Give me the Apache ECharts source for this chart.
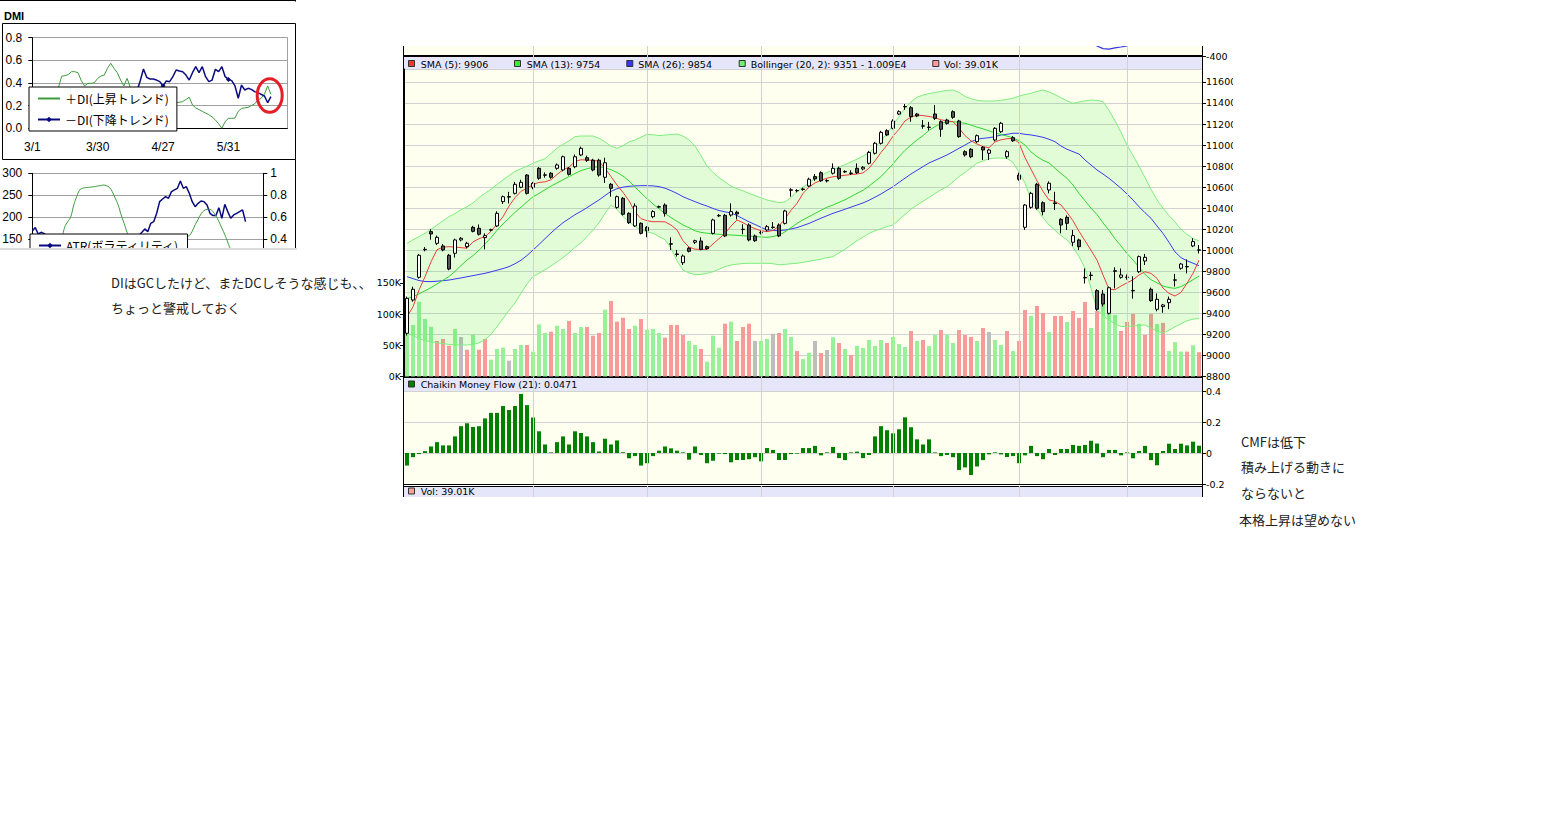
<!DOCTYPE html>
<html><head><meta charset="utf-8">
<script src="https://cdn.jsdelivr.net/npm/echarts@6/dist/echarts.min.js"></script>
<style>
html,body{margin:0;padding:0;background:#fff;width:1566px;height:828px;overflow:hidden;}
#dmiWrap{position:absolute;left:0;top:0;width:298px;height:248px;overflow:hidden;}
#dmi{position:absolute;left:0;top:0;width:298px;height:248px;}
#dmiEdge{position:absolute;left:0;top:248px;width:297px;height:2px;background:#dcdcdc;}
#mainWrap{position:absolute;left:360px;top:46px;width:873px;height:451px;overflow:hidden;}
#main{position:absolute;left:0;top:-60px;width:900px;height:600px;}
.note{position:absolute;font-family:"Noto Sans CJK JP";font-size:13px;color:#222;white-space:nowrap;line-height:16px;}
</style></head>
<body>
<div id="dmiWrap"><div id="dmi"></div></div>
<div id="dmiEdge"></div>
<div class="note" style="left:111px;top:275px">DIはGCしたけど、またDCしそうな感じも、、</div>
<div class="note" style="left:111px;top:300px">ちょっと警戒しておく</div>
<div id="mainWrap"><div id="main"></div></div>
<div class="note" style="left:1241px;top:434px">CMFは低下</div>
<div class="note" style="left:1241px;top:459px">積み上げる動きに</div>
<div class="note" style="left:1241px;top:485px">ならないと</div>
<div class="note" style="left:1239px;top:512px">本格上昇は望めない</div>
<script>
// ================= DATA: main chart (Dec 2009 - Jun 2010) =================
const decDays=[1,2,3,4,7,8,9,10,11,14,15,16,17,18,21,22,24,25,28,29,30];
const janDays=[4,5,6,7,8,12,13,14,15,18,19,20,21,22,25,26,27,28,29];
const febDays=[1,2,3,4,5,8,9,10,12,15,16,17,18,19,22,23,24,25,26];
const marDays=[1,2,3,4,5,8,9,10,11,12,15,16,17,18,19,23,24,25,26,29,30,31];
const aprDays=[1,2,5,6,7,8,9,12,13,14,15,16,19,20,21,22,23,26,27,28,30];
const mayDays=[6,7,10,11,12,13,14,17,18,19,20,21,24,25,26,27,28,31];
const junDays=[1,2,3,4,7,8,9,10,11,14,15,16,17];
const junDaysDmi=[1,2,3,4,7,8,9,10,11,14,15,16,17,18,21,22,23,24];

const opens=[9211,9527,9743,10005,10177,10066,10041,9952,9971,10098,10034,10218,10209,10120,10191,10231,10462,10505,10541,10599,10715,10599,10779,10713,10732,10779,10763,10779,10794,10906,10880,10856,10856,10694,10627,10408,10494,10351,10231,10256,10218,10319,10410,10430,10062,9965,9882,10019,10076,10088,10034,10161,10327,10332,10335,10361,10200,10240,10136,10165,10193,10216,10240,10256,10570,10565,10578,10611,10700,10737,10659,10732,10779,10745,10730,10779,10773,10827,10922,11017,11137,11159,11295,11363,11355,11295,11179,11167,11295,11222,11238,11317,11229,10937,10960,11032,10979,10922,11048,11127,10889,11070,10715,10218,10408,10627,10452,10573,10450,10294,10313,10076,10098,9742,9760,9616,9584,9401,9805,9743,9745,9618,9796,9898,9629,9439,9464,9502,9715,9829,9842,10041,10000];
const closes=[9543,9629,9952,10009,10155,10123,10003,9822,10098,10114,10066,10180,10152,10139,10195,10351,10509,10510,10627,10646,10541,10637,10684,10717,10694,10811,10889,10722,10889,10969,10855,10763,10715,10832,10589,10509,10342,10262,10421,10161,10186,10367,10415,10351,10058,9960,9945,9990,10091,10009,10015,10288,10331,10136,10367,10345,10198,10098,10091,10169,10224,10220,10136,10373,10575,10568,10582,10675,10678,10661,10663,10779,10684,10749,10734,10737,10789,10930,11017,11121,11096,11229,11317,11367,11270,11276,11183,11171,11254,11150,11206,11264,11080,10906,10889,11089,10953,10953,11159,11207,10937,11041,10675,10430,10541,10399,10367,10637,10443,10240,10256,10139,10034,9737,9764,9439,9489,9644,9800,9765,9743,9614,9939,9933,9521,9534,9480,9534,9719,9869,9846,10082,10004];
const highs=[9560,9654,9965,10030,10200,10140,10060,9965,10110,10125,10080,10232,10245,10161,10205,10370,10520,10555,10650,10670,10725,10650,10790,10740,10745,10825,10900,10790,10910,10985,10900,10870,10870,10880,10640,10520,10505,10360,10446,10265,10230,10380,10425,10446,10123,10003,9960,10030,10100,10123,10045,10300,10345,10345,10446,10375,10247,10255,10150,10185,10240,10269,10255,10385,10590,10580,10595,10690,10725,10750,10675,10826,10795,10760,10760,10826,10800,10945,11030,11135,11150,11245,11330,11390,11370,11305,11238,11220,11380,11235,11250,11330,11240,10950,10970,11100,10990,10965,11170,11220,10950,11085,10737,10440,10555,10640,10465,10655,10556,10305,10332,10193,10110,9827,9795,9630,9623,9655,9838,9827,9770,9753,9950,9965,9645,9590,9490,9560,9775,9880,9913,10114,10050];
const lows=[9190,9511,9730,9990,10100,10050,9990,9810,9930,10085,10020,10170,10140,10009,10180,10220,10440,10445,10530,10590,10530,10580,10670,10690,10680,10765,10750,10710,10780,10895,10840,10750,10700,10640,10510,10395,10330,10250,10220,10150,10123,10305,10400,10320,10003,9940,9860,9980,10060,10000,10005,10150,10315,10125,10320,10294,10152,10085,10080,10150,10180,10205,10125,10245,10509,10550,10565,10600,10660,10650,10645,10720,10670,10735,10715,10725,10760,10815,10910,11005,11085,11150,11285,11335,11222,11265,11155,11140,11238,11079,11195,11250,11070,10890,10875,11020,10858,10858,11035,11115,10870,11030,10661,10193,10395,10385,10332,10541,10383,10161,10193,10041,10003,9684,9715,9425,9465,9390,9638,9730,9720,9540,9785,9860,9510,9420,9406,9440,9655,9815,9780,10030,9970];
const volumeK=[122.7,82.6,120,92.2,79.9,57,60.2,49.4,76.2,63.4,43,66.6,43,60.2,27,44.1,46.3,25.4,44.1,50.5,50.5,39.8,83.7,69.8,71.9,81.5,76.2,89,69.8,79.4,79.4,65.5,69.8,107.2,121.1,88,94.3,76.2,81.5,92.2,75.1,76.2,69.8,62.3,82.6,82.6,66.6,57,50.5,44.1,23.8,65.5,46.3,84.7,88,57,79.4,84.7,57,57,60.2,68.7,69.8,76.2,63.4,40.9,28.1,37.7,57,37.7,42.5,62.9,53.7,44.1,34.5,48.9,45.7,58.6,48.9,58.6,53.7,63.4,52.1,47.3,73,57,58.6,48.9,66.6,74.6,66.6,53.7,74.6,66.6,63.4,57,77.8,71.4,58.6,50.5,73,40.9,57,106.7,97.1,113.1,101.9,71.4,97.1,97.1,87.4,105.1,93.9,119.5,77.8,105.1,116.3,100.3,98.7,73,87.4,100.3,84.2,66.6,100.3,84.2,86,41,55,40,40,50,39.01];
const volumeColorCodes="gggggrrrgnrgrrgggnggrgggrggrggrrrgrrrrgrgggrrrrggrgggrgrrrnggnrggrggnrngrgrgggggrgggrgrggrggrrrgrnggrgrrgrrgrrgrrrgrgggrrrgrrgrggg"+"rgr";
const sma5=[9368,9463,9622,9749,9890,10005,10030,10034,10030,10025,10019,10080,10110,10129,10180,10250,10319,10420,10500,10560,10589,10625,10645,10650,10670,10720,10765,10790,10845,10860,10858,10855,10845,10780,10700,10620,10550,10470,10365,10300,10281,10271,10272,10270,10240,10193,10090,10030,10010,10008,10009,10060,10110,10160,10230,10288,10262,10230,10205,10185,10177,10188,10230,10300,10380,10446,10540,10600,10640,10665,10685,10699,10705,10713,10720,10725,10735,10780,10850,10930,11000,11085,11150,11230,11265,11285,11280,11272,11260,11240,11230,11222,11160,11090,11040,11010,10985,10975,11030,11050,11060,11064,11020,10880,10770,10660,10560,10478,10465,10430,10360,10280,10180,10090,10000,9907,9765,9630,9625,9660,9690,9720,9765,9796,9780,9733,9640,9590,9565,9600,9686,9781,9906];
const sma13=[9540,9560,9585,9615,9645,9680,9715,9750,9800,9855,9907,9950,10000,10060,10120,10190,10250,10305,10360,10410,10460,10509,10540,10575,10610,10640,10670,10700,10730,10758,10775,10788,10794,10785,10765,10740,10705,10660,10600,10545,10490,10440,10395,10350,10310,10275,10240,10215,10185,10170,10162,10156,10152,10148,10145,10142,10138,10135,10130,10126,10123,10130,10145,10175,10215,10255,10290,10320,10350,10380,10410,10430,10455,10480,10510,10540,10570,10610,10655,10700,10760,10820,10890,10950,11000,11048,11090,11140,11175,11205,11222,11222,11215,11207,11190,11170,11155,11135,11115,11100,11085,11070,11040,11000,10935,10890,10855,10830,10780,10730,10684,10620,10540,10470,10400,10340,10260,10190,10110,10040,9970,9907,9840,9770,9720,9690,9660,9645,9638,9655,9686,9720,9754];
const sma26=[9749,9730,9712,9703,9702,9706,9711,9717,9727,9737,9748,9759,9770,9781,9795,9810,9826,9844,9872,9905,9950,10002,10055,10110,10165,10215,10262,10300,10338,10370,10405,10442,10478,10520,10560,10585,10600,10608,10612,10614,10614,10612,10605,10590,10567,10540,10509,10485,10462,10440,10420,10397,10378,10365,10355,10330,10300,10271,10245,10218,10195,10188,10186,10192,10203,10215,10235,10255,10280,10305,10328,10351,10370,10390,10410,10430,10450,10475,10505,10535,10570,10604,10645,10685,10725,10760,10795,10830,10855,10880,10906,10937,10969,11000,11032,11055,11064,11070,11080,11096,11102,11112,11112,11102,11096,11086,11074,11055,11032,10991,10960,10937,10915,10858,10811,10763,10725,10684,10637,10589,10535,10478,10414,10357,10304,10231,10160,10075,9985,9930,9900,9877,9854];
const bbUpper=[10066,10100,10130,10161,10200,10240,10280,10319,10350,10385,10414,10450,10500,10541,10580,10625,10670,10710,10750,10775,10800,10827,10850,10870,10920,10970,11007,11040,11080,11086,11086,11086,11065,11030,10990,10969,10995,11030,11048,11075,11102,11098,11090,11095,11100,11105,11085,11050,10990,10900,10800,10740,10690,10650,10610,10585,10565,10541,10520,10498,10478,10465,10452,10460,10500,10560,10600,10640,10684,10710,10740,10765,10790,10815,10840,10865,10895,10930,10980,11040,11110,11191,11270,11350,11410,11455,11475,11490,11500,11510,11520,11523,11500,11462,11440,11425,11419,11418,11419,11425,11435,11445,11465,11480,11492,11510,11523,11505,11480,11450,11420,11397,11410,11420,11428,11425,11413,11330,11230,11120,11000,10900,10800,10690,10580,10480,10400,10330,10270,10200,10150,10110,10090];
const bbLower=[9211,9190,9160,9140,9131,9120,9112,9105,9100,9099,9099,9105,9120,9150,9200,9273,9350,9430,9500,9590,9680,9749,9780,9815,9850,9890,9930,9975,10030,10070,10130,10190,10260,10350,10430,10390,10320,10270,10225,10195,10175,10161,10130,10100,10020,9900,9812,9785,9768,9770,9780,9796,9820,9845,9860,9868,9874,9876,9876,9876,9876,9872,9862,9866,9872,9876,9885,9895,9905,9915,9930,9939,9975,10010,10050,10090,10125,10160,10185,10205,10225,10240,10290,10340,10390,10430,10465,10500,10540,10575,10604,10650,10700,10740,10785,10827,10850,10870,10876,10876,10874,10835,10740,10640,10478,10390,10310,10240,10190,10140,10098,10030,9940,9830,9640,9432,9380,9337,9300,9275,9275,9280,9285,9290,9260,9230,9211,9240,9273,9300,9330,9345,9351];
const cmf=[-0.081,-0.027,-0.007,0.012,0.042,0.07,0.049,0.049,0.107,0.173,0.192,0.168,0.173,0.223,0.259,0.259,0.303,0.277,0.303,0.381,0.309,0.229,0.14,0.055,0.004,0.07,0.107,0.055,0.14,0.129,0.107,0.07,0.01,0.092,0.055,0.081,0.005,-0.034,-0.02,-0.081,-0.066,-0.02,0.015,0.042,0.03,0.015,0.004,-0.043,0.042,-0.013,-0.066,-0.05,-0.004,-0.007,-0.06,-0.045,-0.045,-0.04,-0.027,-0.054,0.032,0.02,-0.045,-0.045,-0.007,-0.004,0.032,0.032,0.046,-0.015,0.004,0.039,-0.033,-0.046,0.004,0.009,-0.033,-0.013,0.107,0.173,0.147,0.127,0.153,0.23,0.166,0.088,0.055,0.088,0.004,-0.02,-0.013,-0.027,-0.11,-0.093,-0.142,-0.087,-0.046,-0.009,0.004,-0.009,-0.026,-0.02,-0.066,-0.015,0.046,-0.02,-0.04,0.026,-0.013,0.026,0.026,0.052,0.046,0.052,0.079,0.061,-0.027,0.02,0.02,-0.015,0.004,-0.034,0.013,0.046,-0.046,-0.079,0.013,0.06,0.026,0.06,0.049,0.073,0.0471];
// visible tail of the indicator line in the (cropped) panel above the price pane
const upperPanelLine=new Array(133).fill(null);
[[114,-333],[115,-350],[116,-363],[117,-366],[118,-359],[119,-355],[120,-350],[121,-335]].forEach(([i,v])=>upperPanelLine[i]=v);

// ================= DATA: DMI / ATR (Mar - Jun 2010) =================
const dmiPlus=[null,null,null,null,null,null,null,0.33,0.362,0.46,0.465,0.475,0.50,0.50,0.49,0.42,0.374,0.397,0.397,0.403,0.441,0.462,0.47,0.53,0.574,0.53,0.491,0.426,0.374,0.441,0.36,0.32,null,null,null,null,null,null,null,null,null,null,null,0.24,0.226,0.23,0.235,0.255,0.274,0.206,0.18,0.165,0.15,0.135,0.12,0.1,0.074,0.04,0.0,0.06,0.088,0.088,0.09,0.15,0.176,0.18,0.185,0.2,0.215,0.25,0.265,0.30,0.374,0.30,null,null,null,null,null];
const dmiMinus=[null,null,null,null,null,null,null,null,null,null,null,null,null,null,null,null,null,null,null,null,null,null,null,null,null,null,null,null,null,null,null,null,0.33,0.418,0.524,0.45,0.435,0.435,0.426,0.412,0.374,0.418,0.412,0.456,0.515,0.506,0.50,0.47,0.426,0.491,0.544,0.491,0.544,0.456,0.412,0.426,0.521,0.50,0.544,0.456,0.432,0.421,0.374,0.265,0.382,0.338,0.353,0.344,0.324,0.315,0.30,0.285,0.226,0.279,null,null,null,null,null];
const atrValues=[168.3,176,161.5,165.3,162.3,155,null,null,null,null,null,null,null,null,null,null,null,null,null,null,null,null,null,null,null,null,null,null,null,null,null,null,null,null,null,null,158,165.3,173,166.8,185.8,189.6,208.7,235.3,241.4,246.7,242.9,258.1,262,265.8,282.5,265.8,269.6,254.3,235.3,223.9,231.5,236.8,235.3,227.7,208.7,203.4,203.4,221.6,197.3,229.2,212.5,197.3,204.9,208.7,212.5,216.3,189.6,null,null,null,null,null,null];
const volatility=[null,null,null,null,null,null,null,null,null,null,0.40,0.513,0.559,0.604,0.711,0.787,0.848,0.863,0.869,0.872,0.875,0.878,0.884,0.887,0.893,0.887,0.872,0.833,0.772,0.711,0.62,0.543,0.461,0.40,null,null,null,null,null,null,null,null,null,null,null,null,null,null,null,null,0.38,0.40,0.42,0.43,0.47,0.53,0.58,0.63,0.66,0.67,0.67,0.65,0.61,0.56,0.50,0.44,0.37,0.30,0.25,null,null,null,null,null,null,null,null,null,null];

// ================= build helpers =================
function buildDates(list){const out=[];list.forEach(([m,days])=>days.forEach(d=>out.push(m+'/'+d)));return out;}
const categories=buildDates([[12,decDays],[1,janDays],[2,febDays],[3,marDays],[4,aprDays],[5,mayDays],[6,junDays]]);
const dmiDates=buildDates([[3,marDays],[4,aprDays],[5,mayDays],[6,junDaysDmi]]);
const N=categories.length;
const monthStarts=[];
for(let i=1;i<N;i++){if(categories[i].split('/')[0]!==categories[i-1].split('/')[0])monthStarts.push(i);}
const last=a=>a[a.length-1];

// ================= main chart =================
const FONT='DejaVu Sans';
const BG='#fffff0', BAND='#e6e6fa', GRIDC='#d2d2d2';
const GL=44, GW=798;
const gridDefs=[
  {top:0,height:70,bg:BG},
  {top:70,height:13,bg:BAND},
  {top:83,height:307.5,bg:BG},
  {top:391,height:14,bg:BAND},
  {top:405,height:93,bg:BG},
  {top:500,height:60,bg:BAND}
];
const grids=gridDefs.map(g=>({left:GL,width:GW,top:g.top,height:g.height,show:true,backgroundColor:g.bg,borderWidth:0,containLabel:false,outerBoundsMode:'none'}));
const xAxes=gridDefs.map((g,k)=>({
  type:'category',gridIndex:k,data:categories,boundaryGap:true,
  position:(k===1||k===5)?'top':'bottom',
  axisLine:{show:(k===1||k===2||k===4||k===5),onZero:false,lineStyle:{color:'#000',width:(k===1||k===2)?2:1}},
  axisTick:{show:false},axisLabel:{show:false},splitLine:{show:false}
}));
const lab={fontFamily:FONT,fontSize:9.5,color:'#000'};
const lineOnlyAxis=k=>({type:'value',gridIndex:k,position:'right',min:0,max:1,axisLine:{show:true,lineStyle:{color:'#000'}},axisTick:{show:false},axisLabel:{show:false},splitLine:{show:false}});
const yAxes=[
  {type:'value',gridIndex:0,position:'right',min:-400,max:-50,interval:100,axisLine:{show:true,lineStyle:{color:'#000'}},axisTick:{show:true,inside:false,length:4,lineStyle:{color:'#000'}},
   axisLabel:Object.assign({margin:4,showMinLabel:true,formatter:v=>v===-400?'-400':''},lab),splitLine:{show:false}},
  lineOnlyAxis(1),
  {type:'value',gridIndex:2,position:'right',min:8800,max:11723,interval:200,axisLine:{show:true,lineStyle:{color:'#000'}},axisTick:{show:true,length:4,lineStyle:{color:'#000'}},
   axisLabel:Object.assign({margin:4,showMinLabel:true,showMaxLabel:false,formatter:v=>String(Math.round(v))},lab),splitLine:{show:true,lineStyle:{color:GRIDC,width:1}}},
  {type:'value',gridIndex:2,position:'left',min:0,max:493300,interval:50000,axisLine:{show:true,lineStyle:{color:'#000'}},
   axisTick:{show:true,length:4,lineStyle:{color:'#000'},customValues:[0,50000,100000,150000]},
   axisLabel:Object.assign({margin:3,showMinLabel:true,customValues:[0,50000,100000,150000],formatter:v=>v<=150000?(Math.round(v/1000))+'K':''},lab),splitLine:{show:false}},
  lineOnlyAxis(3),
  {type:'value',gridIndex:4,position:'right',min:-0.2,max:0.4,interval:0.2,axisLine:{show:true,lineStyle:{color:'#000'}},axisTick:{show:true,length:4,lineStyle:{color:'#000'}},
   axisLabel:Object.assign({margin:4,showMinLabel:true,showMaxLabel:true,formatter:v=>String(Math.round(v*10)/10)},lab),splitLine:{show:true,lineStyle:{color:GRIDC,width:1}}},
  lineOnlyAxis(5)
];
const yForGrid=[0,1,2,4,5,6];
const nulls=categories.map(()=>null);
function carrier(k){
  return {type:'line',xAxisIndex:k,yAxisIndex:yForGrid[k],data:nulls,symbol:'none',silent:true,z:1,lineStyle:{opacity:0},
    markLine:{silent:true,animation:false,symbol:['none','none'],label:{show:false},lineStyle:{color:GRIDC,type:'solid',width:1},
      emphasis:{disabled:true},data:monthStarts.map(i=>({xAxis:categories[i]}))}};
}
const volColorMap={g:'#98f098',r:'#f89a9a',n:'#bdbdbd'};
const candleData=opens.map((o,i)=>[o,closes[i],lows[i],highs[i]]);
const series=[
  carrier(0),
  {type:'line',xAxisIndex:0,yAxisIndex:0,data:upperPanelLine,symbol:'none',z:3,lineStyle:{color:'#3434e8',width:1.2}},
  carrier(1),
  carrier(2),
  {type:'bar',xAxisIndex:2,yAxisIndex:3,barWidth:4,z:1,data:volumeK.map((v,i)=>({value:v*1000,itemStyle:{color:volColorMap[volumeColorCodes[i]]}}))},
  {type:'line',xAxisIndex:2,yAxisIndex:2,data:bbLower,stack:'bb',symbol:'none',z:2,lineStyle:{color:'#7eee7e',width:1}},
  {type:'line',xAxisIndex:2,yAxisIndex:2,data:bbUpper.map((u,i)=>u-bbLower[i]),stack:'bb',symbol:'none',z:2,lineStyle:{color:'#7eee7e',width:1},areaStyle:{color:'rgba(0,230,30,0.16)'}},
  {type:'line',xAxisIndex:2,yAxisIndex:2,data:sma26,symbol:'none',z:3,lineStyle:{color:'#3a3af0',width:1}},
  {type:'line',xAxisIndex:2,yAxisIndex:2,data:sma13,symbol:'none',z:3,lineStyle:{color:'#30d830',width:1}},
  {type:'line',xAxisIndex:2,yAxisIndex:2,data:sma5,symbol:'none',z:3,lineStyle:{color:'#f03c3c',width:1}},
  {type:'candlestick',xAxisIndex:2,yAxisIndex:2,data:candleData,barWidth:4,z:4,
   itemStyle:{color:'#ffffff',color0:'#555555',borderColor:'#000000',borderColor0:'#000000',borderColorDoji:'#000000',borderWidth:1}},
  carrier(3),
  carrier(4),
  {type:'bar',xAxisIndex:4,yAxisIndex:5,data:cmf,barWidth:4,z:2,itemStyle:{color:'#007f00'}},
  carrier(5)
];
function legendItem(sqX,txtX,cy,color,text){
  return [
    {type:'rect',shape:{x:sqX,y:cy-3.5,width:6,height:6},style:{fill:color,stroke:'#333',lineWidth:1},z:50},
    {type:'text',x:txtX,y:cy,style:{text:text,fill:'#000',fontFamily:FONT,fontSize:9.5,verticalAlign:'middle',align:'left'},z:50}
  ];
}
const fmtE=v=>(v/1e4).toFixed(3)+'E4';
const graphics=[].concat(
  legendItem(48.5,60.7,78,'#ff3333','SMA (5): '+last(sma5)),
  legendItem(154.5,166.7,78,'#33ee33','SMA (13): '+last(sma13)),
  legendItem(266.8,278.3,78,'#3535ff','SMA (26): '+last(sma26)),
  legendItem(379.2,390.7,78,'#70ee70','Bollinger (20, 2): '+last(bbLower)+' - '+fmtE(last(bbUpper))),
  legendItem(572.8,584,78,'#ff9c9c','Vol: '+last(volumeK).toFixed(2)+'K'),
  legendItem(48.5,60.7,398.5,'#007f00','Chaikin Money Flow (21): '+last(cmf)),
  legendItem(48.5,60.7,505.5,'#ff9c9c','Vol: '+last(volumeK).toFixed(2)+'K'),
  [
    {type:'line',shape:{x1:43.5,y1:0,x2:43.5,y2:600},style:{stroke:'#000',lineWidth:1},z:60},
    {type:'line',shape:{x1:842.5,y1:0,x2:842.5,y2:600},style:{stroke:'#000',lineWidth:1},z:60},
    {type:'line',shape:{x1:842.5,y1:515.5,x2:846.5,y2:515.5},style:{stroke:'#000',lineWidth:1},z:60},
    {type:'text',x:847,y:515.5,style:{text:'150K',fill:'#000',fontFamily:FONT,fontSize:9.5,verticalAlign:'middle'},z:60}
  ]
);
const main=echarts.init(document.getElementById('main'),null,{renderer:'svg'});
main.setOption({
  animation:false,
  textStyle:{fontFamily:FONT},
  grid:grids,xAxis:xAxes,yAxis:yAxes,series:series,graphic:graphics
});

// ================= DMI / ATR chart =================
const JP='Noto Sans CJK JP';
const lab2={fontFamily:'Liberation Sans',fontSize:12,color:'#000'};
const dmi=echarts.init(document.getElementById('dmi'),null,{renderer:'svg'});
dmi.setOption({
  animation:false,
  textStyle:{fontFamily:'Liberation Sans'},
  grid:[
    {left:32.3,top:37.7,width:255,height:90.6,containLabel:false,outerBoundsMode:'none'},
    {left:32.3,top:173.3,width:231,height:87.6,containLabel:false,outerBoundsMode:'none'}
  ],
  xAxis:[
    {type:'category',gridIndex:0,data:dmiDates,boundaryGap:false,axisLine:{onZero:false,lineStyle:{color:'#000'}},axisTick:{show:false},
     axisLabel:Object.assign({interval:19,margin:13},lab2),splitLine:{show:false}},
    {type:'category',gridIndex:1,data:dmiDates,boundaryGap:false,axisLine:{onZero:false,lineStyle:{color:'#000'}},axisTick:{show:false},axisLabel:{show:false},splitLine:{show:false}}
  ],
  yAxis:[
    {type:'value',gridIndex:0,min:0,max:0.8,interval:0.2,axisLine:{show:true,lineStyle:{color:'#000'}},axisTick:{show:true,length:4,lineStyle:{color:'#000'}},
     axisLabel:Object.assign({margin:10,showMinLabel:true,showMaxLabel:true,formatter:v=>v.toFixed(1)},lab2),splitLine:{show:true,lineStyle:{color:'#a0a0a0'}}},
    {type:'value',gridIndex:0,position:'right',min:0,max:1,axisLine:{show:true,lineStyle:{color:'#a0a0a0'}},axisTick:{show:false},axisLabel:{show:false},splitLine:{show:false}},
    {type:'value',gridIndex:1,min:100,max:300,interval:50,axisLine:{show:true,lineStyle:{color:'#000'}},axisTick:{show:true,length:4,lineStyle:{color:'#000'}},
     axisLabel:Object.assign({margin:10,showMaxLabel:true,formatter:v=>v>=150?String(v):''},lab2),splitLine:{show:true,lineStyle:{color:'#a0a0a0'}}},
    {type:'value',gridIndex:1,position:'right',min:0.2,max:1.0,interval:0.2,axisLine:{show:true,lineStyle:{color:'#000'}},axisTick:{show:true,length:4,lineStyle:{color:'#000'}},
     axisLabel:Object.assign({margin:7,showMaxLabel:true,formatter:v=>{const r=Math.round(v*10)/10;return r===1?'1':(r>=0.4?r.toFixed(1):'');}},lab2),splitLine:{show:false}}
  ],
  legend:[
    {data:[{name:'＋DI(上昇トレンド)',itemStyle:{opacity:0}},'－DI(下降トレンド)'],left:29,top:87,orient:'vertical',backgroundColor:'#fff',borderColor:'#000',borderWidth:1,borderRadius:0,
     padding:[5,8,5,8],itemGap:8,itemWidth:22,itemHeight:7,textStyle:{fontFamily:JP,fontSize:12,color:'#000',lineHeight:13},selectedMode:false},
    {data:['ATR(ボラティリティ)'],left:30,top:234,orient:'vertical',backgroundColor:'#fff',borderColor:'#000',borderWidth:1,borderRadius:0,
     padding:[5,8,5,8],itemGap:8,itemWidth:22,itemHeight:7,textStyle:{fontFamily:JP,fontSize:12,color:'#000',lineHeight:13},selectedMode:false}
  ],
  series:[
    {name:'＋DI(上昇トレンド)',type:'line',xAxisIndex:0,yAxisIndex:0,data:dmiPlus,symbol:'none',lineStyle:{color:'#3d9b3d',width:1},itemStyle:{color:'#3d9b3d'}},
    {name:'－DI(下降トレンド)',type:'line',xAxisIndex:0,yAxisIndex:0,data:dmiMinus,symbol:'diamond',symbolSize:5,showSymbol:true,lineStyle:{color:'#0a0a80',width:1.5},itemStyle:{color:'#0a0a80'}},
    {name:'ATR(ボラティリティ)',type:'line',xAxisIndex:1,yAxisIndex:2,data:atrValues,symbol:'diamond',symbolSize:5,showSymbol:true,lineStyle:{color:'#0a0a80',width:1.5},itemStyle:{color:'#0a0a80'}},
    {type:'line',xAxisIndex:1,yAxisIndex:3,data:volatility,symbol:'none',smooth:0.4,lineStyle:{color:'#3d9b3d',width:1},itemStyle:{color:'#3d9b3d'}}
  ],
  graphic:[
    {type:'line',shape:{x1:0,y1:0.5,x2:295.5,y2:0.5},style:{stroke:'#000',lineWidth:1}},
    {type:'line',shape:{x1:295.5,y1:0,x2:295.5,y2:1.5},style:{stroke:'#000',lineWidth:1}},
    {type:'rect',shape:{x:2.5,y:23.5,width:293,height:136},style:{fill:'none',stroke:'#000',lineWidth:1},z:-1},
    {type:'line',shape:{x1:295.5,y1:159.5,x2:295.5,y2:260},style:{stroke:'#000',lineWidth:1}},
    {type:'text',x:4,y:16,style:{text:'DMI',fill:'#000',fontFamily:'Liberation Sans',fontWeight:'bold',fontSize:11,verticalAlign:'middle'}},
    {type:'ellipse',shape:{cx:269.7,cy:95.5,rx:12.5,ry:16.8},style:{fill:'none',stroke:'#e41e26',lineWidth:3},z:100}
  ]
});
</script>
</body></html>
